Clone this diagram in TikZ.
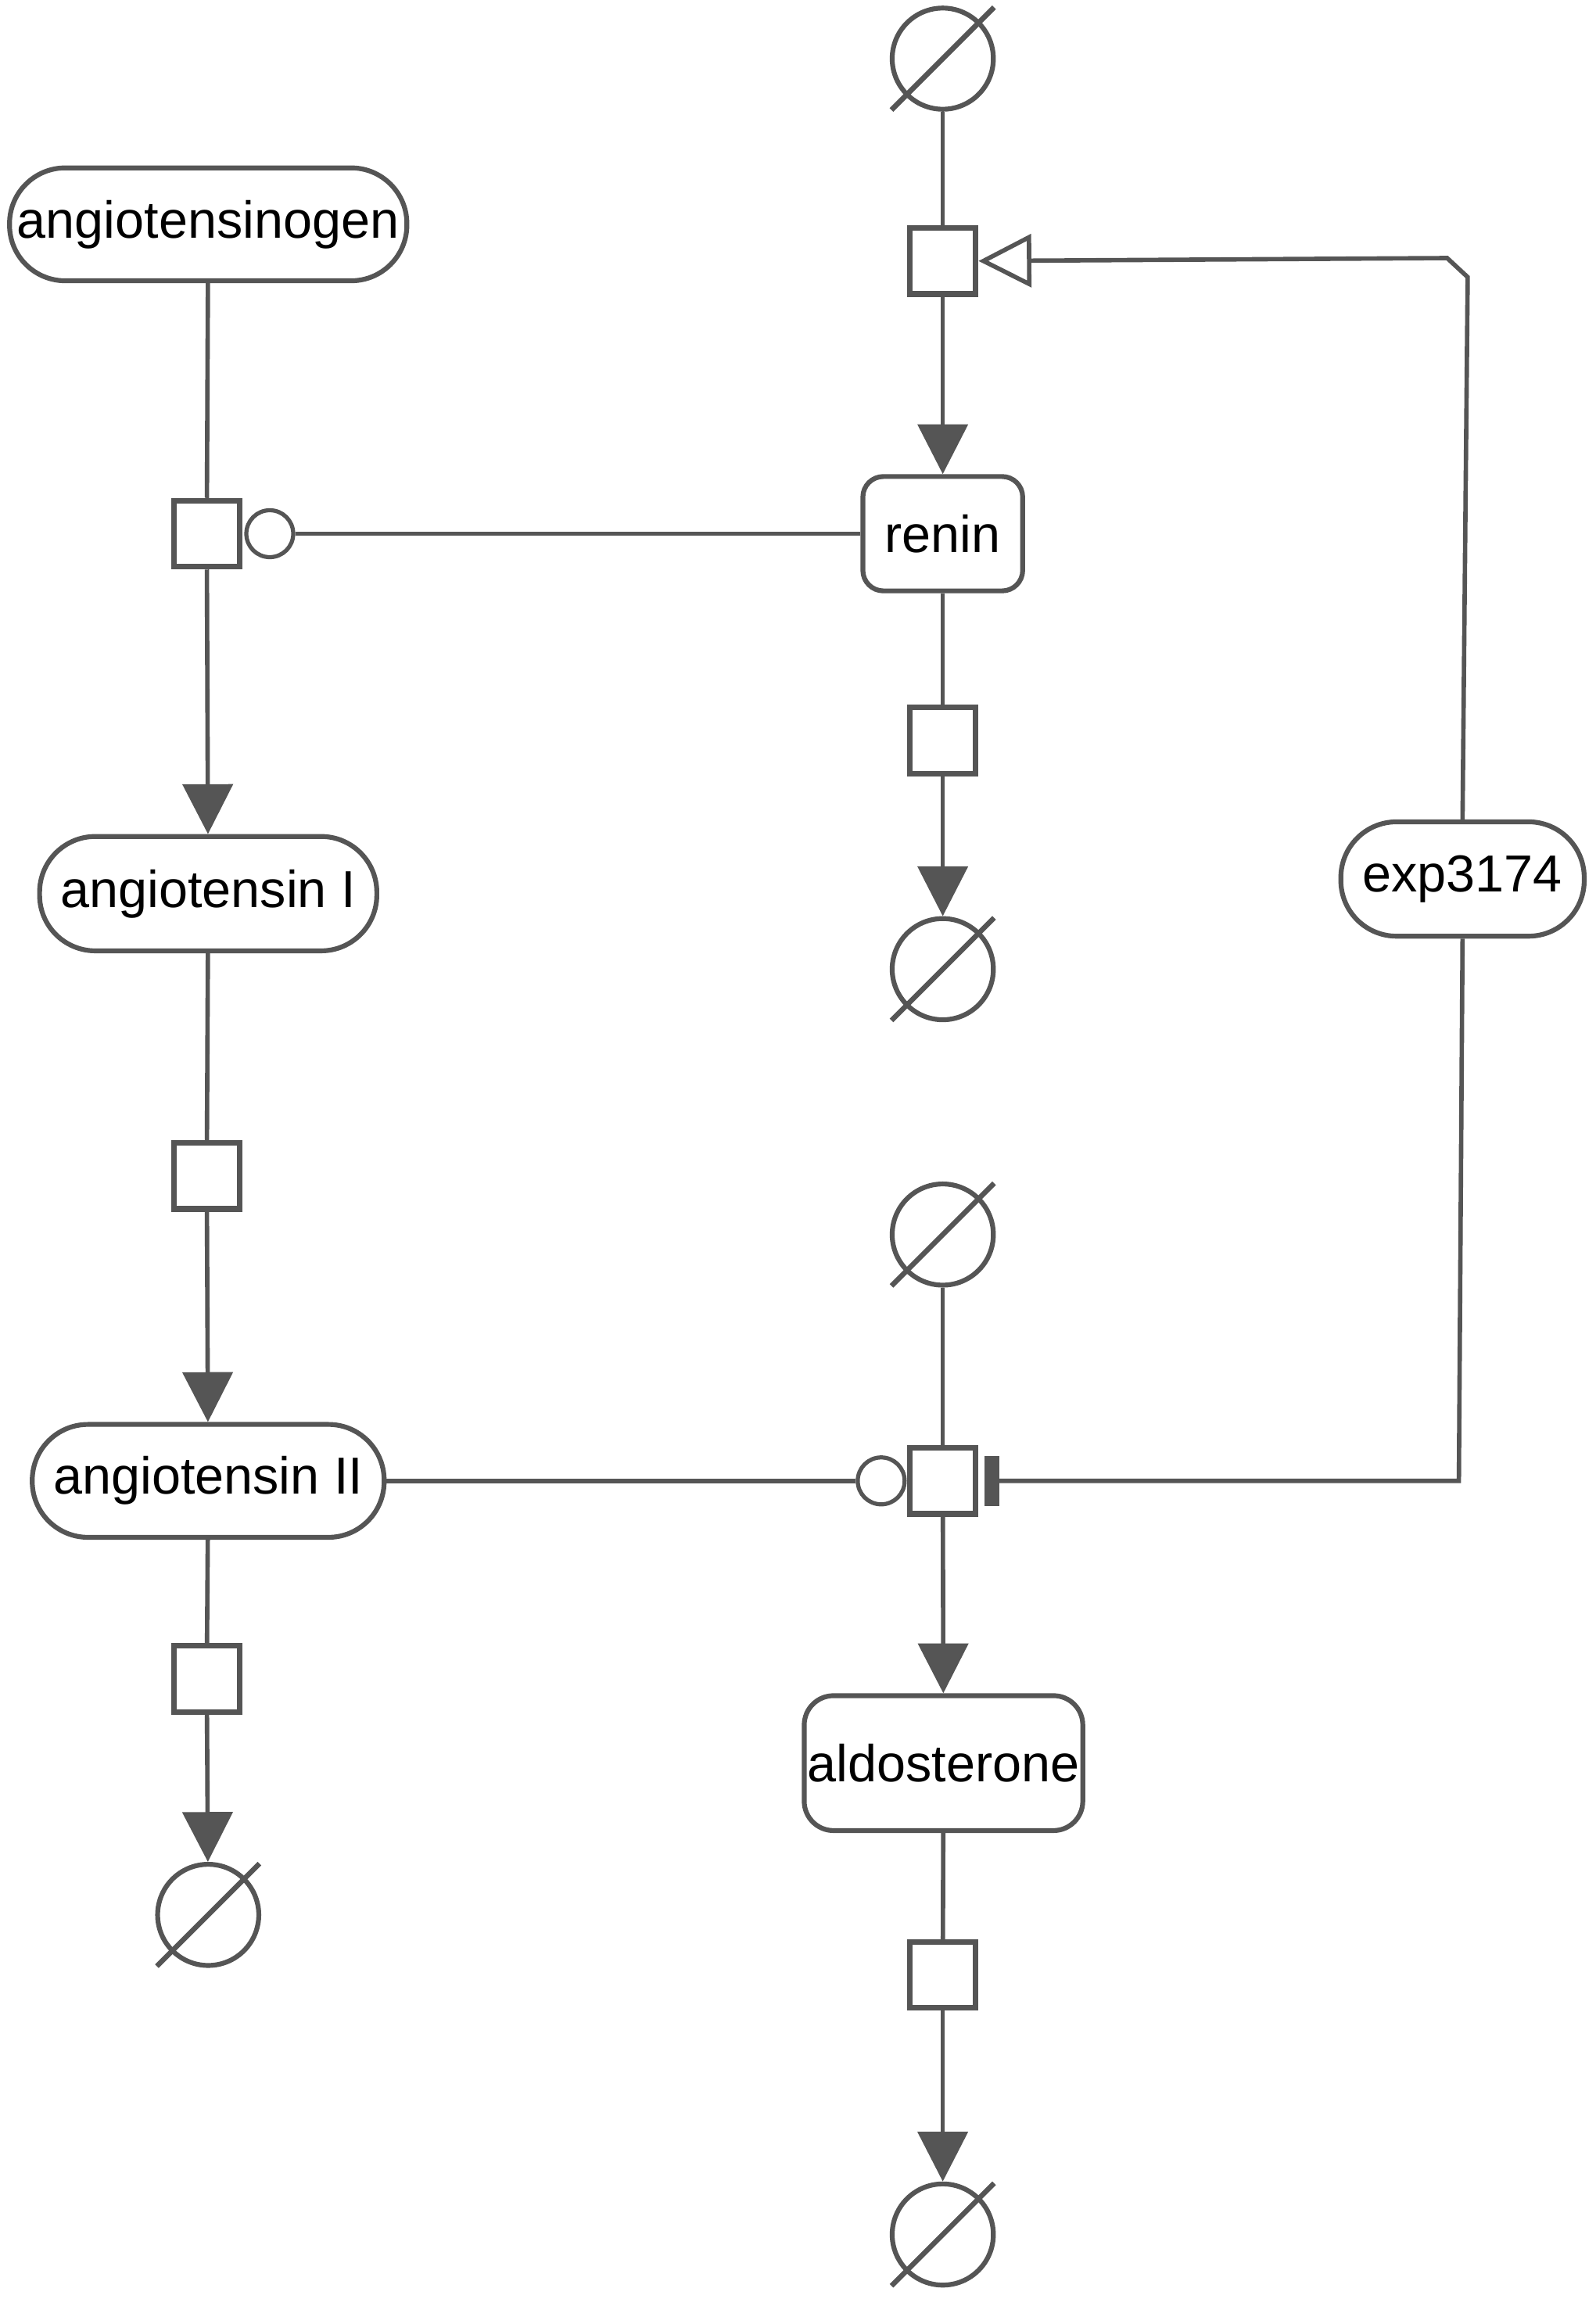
\documentclass[tikz,border=0pt]{standalone}
\usepackage{fontspec}
\setmainfont{Liberation Sans}
\usetikzlibrary{arrows.meta}
\definecolor{sbgngray}{HTML}{555555}
\begin{document}
\begin{tikzpicture}[x=1pt,y=-1pt,>={Triangle[length=34pt,width=34pt]},
  every node/.style={font=\fontsize{35.5}{43}\selectfont},
  ln/.style={draw=sbgngray,line width=3pt},
  pill/.style={draw=sbgngray,line width=3.3pt,inner sep=0pt,minimum height=77pt,rounded corners=38pt},
  box/.style={draw=sbgngray,line width=3.3pt,inner sep=0pt,minimum height=78pt,rounded corners=#1},
  proc/.style={draw=sbgngray,line width=3.8pt,inner sep=0pt,minimum size=45pt,fill=white},
  empty/.style={circle,draw=sbgngray,line width=3.3pt,inner sep=0pt,minimum size=69pt},
  cat/.style={circle,draw=sbgngray,line width=2.8pt,inner sep=0pt,minimum size=32pt,fill=white},
  stim/.style={ln,-{Triangle[open,length=36pt,width=36pt]}},
  inh/.style={ln,-{Rectangle[length=10pt,width=34pt]},shorten >=4pt}]
\useasboundingbox (0,0) rectangle (1088,1568);
% species
\node[pill,minimum width=271pt] (ang) at (142,153) {angiotensinogen};
\node[pill,minimum width=230pt,minimum height=78pt] (angI) at (142,609.5) {angiotensin I};
\node[pill,minimum width=240pt] (angII) at (142,1010) {angiotensin II};
\node[box=14pt,minimum width=109pt] (renin) at (643,364) {renin};
\node[pill,minimum width=166pt,minimum height=78pt] (exp) at (997.5,599.5) {exp3174};
\node[box=20pt,minimum width=190pt,minimum height=92pt] (aldo) at (643.5,1202.5) {aldosterone};
% processes
\node[proc] (p1) at (141,364) {};
\node[proc] (p2) at (141,802) {};
\node[proc] (p3) at (141,1145) {};
\node[proc] (pr) at (643,178) {};
\node[proc] (pd) at (643,505) {};
\node[proc] (pa) at (643,1010) {};
\node[proc] (pad) at (643,1347) {};
% sources and sinks
\node[empty] (e1) at (643,40) {};
\node[empty] (e2) at (643,661) {};
\node[empty] (e3) at (643,842) {};
\node[empty] (e4) at (643,1524) {};
\node[empty] (e5) at (142,1306) {};
\foreach \e in {e1,e2,e3,e4,e5}
  \draw[ln,line width=3.5pt] (\e.center) ++(-35,35) -- ++(70,-70);
% catalysis
\node[cat] (c1) at (184,364) {};
\node[cat] (c2) at (601,1010) {};
\coordinate (k1) at (1001,189);
\coordinate (k2) at (987,176);
\coordinate (k3) at (995,1010);
% reactions
\draw[ln] (ang) -- (p1);
\draw[ln,->] (p1) -- (angI);
\draw[ln] (angI) -- (p2);
\draw[ln,->] (p2) -- (angII);
\draw[ln] (angII) -- (p3);
\draw[ln,->] (p3) -- (e5);
\draw[ln] (e1) -- (pr);
\draw[ln,->] (pr) -- (renin);
\draw[ln] (renin) -- (pd);
\draw[ln,->] (pd) -- (e2);
\draw[ln] (e3) -- (pa);
\draw[ln,->] (pa) -- (aldo);
\draw[ln] (aldo) -- (pad);
\draw[ln,->] (pad) -- (e4);
% modulation
\draw[ln] (renin.west) -- (c1);
\draw[ln] (angII.east) -- (c2);
\draw[stim] (exp.north) -- (k1) -- (k2) -- (pr.east);
\draw[inh] (exp.south) -- (k3) -- (pa.east);
\end{tikzpicture}
\end{document}
